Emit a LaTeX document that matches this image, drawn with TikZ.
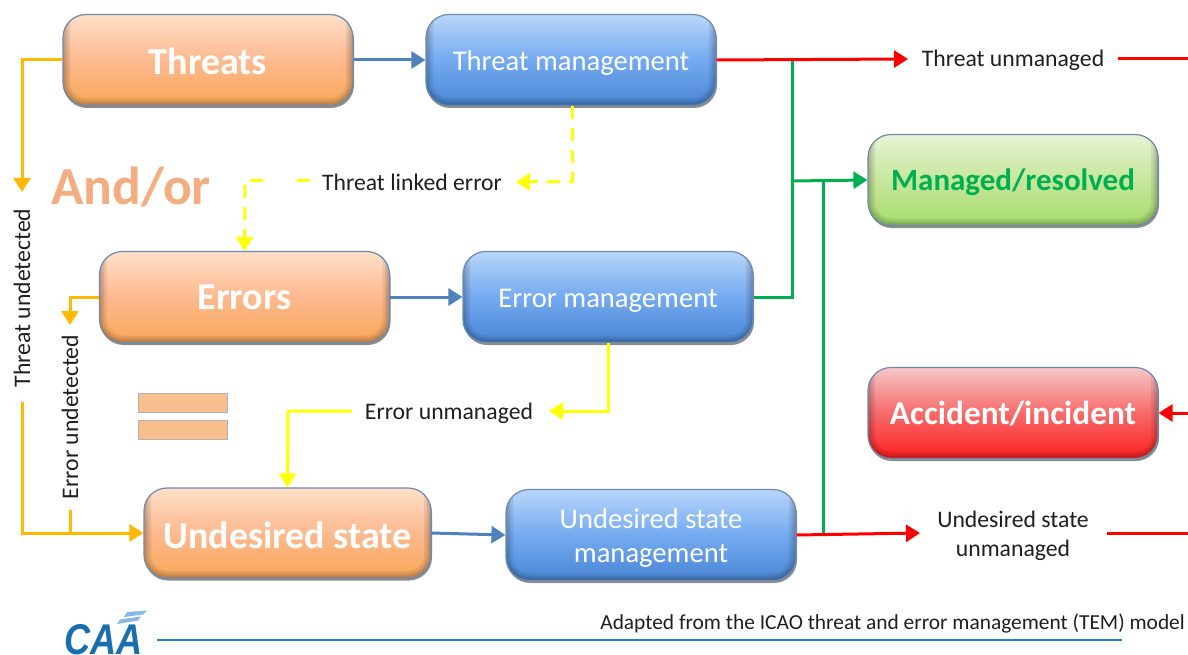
\documentclass[tikz,border=0pt]{standalone}
\usepackage{fontspec}
\setmainfont{Carlito}
\newfontfamily\logofont{Liberation Sans}
\usetikzlibrary{arrows.meta,shadows,calc}
\definecolor{lnblue}{HTML}{4F81BD}
\definecolor{lnorange}{HTML}{FFB900}
\definecolor{lnyellow}{HTML}{FFFF00}
\definecolor{lngreen}{HTML}{00B050}
\definecolor{lnred}{HTML}{FF0000}
\definecolor{edgeblue}{HTML}{6E88AE}
\definecolor{rulecol}{HTML}{1F82CF}
\definecolor{eqfill}{HTML}{F8BE8E}
\definecolor{bluetop}{HTML}{B8D6FA}
\definecolor{bluebot}{HTML}{4A86D4}
\definecolor{bluemid}{HTML}{74AAF0}
\definecolor{greentop}{HTML}{E8F3D4}
\definecolor{greenbot}{HTML}{A6DC6C}
\definecolor{greenmid}{HTML}{C6E79C}
\definecolor{redtop}{HTML}{F6C8C8}
\definecolor{redbot}{HTML}{FF2020}
\definecolor{redmid}{HTML}{F76A6A}
\definecolor{orangetop}{HTML}{FFE0C8}
\definecolor{orangebot}{HTML}{F9A858}
\definecolor{orangemid}{HTML}{FDB98F}
\definecolor{andor}{HTML}{F2AE80}
\newcommand{\lowtxt}[2]{\raisebox{-#1}[\height][\depth]{#2}}
\newcommand{\twoline}[3]{\raisebox{-#1}[\height][\depth]{\parbox{280pt}{\centering #2\\#3}}}
\tikzset{
  x=1pt,y=-1pt,
  basebox/.style={rounded corners=23pt,minimum width=290pt,minimum height=91pt,draw=edgeblue,line width=1.2pt,
     align=center,inner sep=0pt,
     drop shadow={shadow xshift=1pt,shadow yshift=-2.5pt,opacity=.45,fill=black},
     path picture={
       \foreach \lw in {14,9,5}{
         \draw[black,opacity=.08,line width=\lw pt,rounded corners=23pt]
           (path picture bounding box.south west) rectangle
           ([yshift=30pt]path picture bounding box.north east);}
     }},
  orangebox/.style={basebox,top color=orangetop,bottom color=orangebot,middle color=orangemid,text=white,font=\fontsize{38}{38}\selectfont\bfseries},
  bluebox/.style={basebox,top color=bluetop,bottom color=bluebot,middle color=bluemid,text=white,font=\fontsize{28.6}{34}\selectfont},
  greenbox/.style={basebox,top color=greentop,bottom color=greenbot,middle color=greenmid,text=lngreen,font=\fontsize{31}{36}\selectfont\bfseries},
  redbox/.style={basebox,top color=redtop,bottom color=redbot,middle color=redmid,text=white,font=\fontsize{33.3}{36}\selectfont\bfseries},
  lbl/.style={text=black!88,inner sep=0pt,align=center,font=\fontsize{23.7}{29}\selectfont},
  conn/.style={line width=3pt},
  tip/.style={-{Triangle[length=14pt,width=17pt]}},
  blueln/.style={conn,lnblue},
  orangeln/.style={conn,lnorange},
  yellowln/.style={conn,lnyellow},
  yellowdash/.style={conn,lnyellow,dash pattern=on 13pt off 9pt},
  greenln/.style={conn,lngreen},
  redln/.style={conn,lnred},
  eqbar/.style={draw=black!30,fill=eqfill,minimum width=89pt,minimum height=19pt,inner sep=0pt},
}
\begin{document}
\begin{tikzpicture}
\path[use as bounding box,fill=white] (0,0) rectangle (1188,655);
% boxes
\node[orangebox] (threats) at (208,60) {\lowtxt{1pt}{Threats}};
\node[bluebox] (tm) at (571,60) {\lowtxt{3pt}{Threat management}};
\node[orangebox] (errors) at (244.5,297) {Errors};
\node[bluebox] (em) at (608,297) {\lowtxt{4pt}{Error management}};
\node[orangebox,minimum width=287pt,minimum height=90pt] (us) at (287.5,533) {\lowtxt{2pt}{Undesired state}};
\node[bluebox] (usm) at (651,535) {\twoline{3pt}{Undesired state}{management}};
\node[greenbox] (managed) at (1013,180) {\lowtxt{2pt}{Managed/resolved}};
\node[redbox] (accident) at (1013,413) {\lowtxt{1pt}{Accident/incident}};
% labels
\node[lbl] (tun) at (1013,60) {Threat unmanaged};
\node[lbl] (usun) at (1013,536) {Undesired state\\unmanaged};
\node[lbl] (tle) at (412,182) {Threat linked error};
\node[lbl] (eun) at (449,413) {Error unmanaged};
\node[lbl,rotate=90] (tud) at (22,298) {Threat undetected};
\node[lbl,rotate=90] (eud) at (70,417) {Error undetected};
\node[inner sep=0pt,text=andor,font=\fontsize{53.5}{54}\selectfont\bfseries] (andor) at (131,187) {And/or};
\node[eqbar] (eq1) at (182.5,402.5) {};
\node[eqbar] (eq2) at (182.5,429.5) {};
\node[lbl,font=\fontsize{21.4}{24}\selectfont,anchor=east] (adapted) at (1185,624) {Adapted from the ICAO threat and error management (TEM) model};
% free ends
\coordinate (re1) at (1188,59);
\coordinate (re2) at (1188,533);
\coordinate (re3) at (1188,413);
\coordinate (rs) at (157,640);
\coordinate (rt) at (1122,640);
\coordinate (tudTop) at (22,192);
\coordinate (tudBot) at (22,402);
\coordinate (eudTop) at (70,325);
\coordinate (eudBot) at (70,510);
\coordinate (tleTurn) at (572,182);
\coordinate (tleIn) at (516,182);
\coordinate (tleOut) at (310,181);
\coordinate (tleCorner) at (245,181);
\coordinate (tleDown) at (245,185);
\coordinate (eunIn) at (549,411);
\coordinate (eunOut) at (352,411);
% connectors
\draw[blueln,tip] (threats.east) -- (tm.west);
\draw[blueln,tip] (errors.east) -- (em.west);
\draw[blueln,tip] (us.east) -- (usm.west);
\draw[orangeln,tip] (threats.west) -- (22,60) -- (tudTop);
\draw[orangeln,tip] (tudBot) -- (22,533) -- (us.west);
\draw[orangeln,tip] (errors.west) -- (70,297) -- (eudTop);
\draw[orangeln] (eudBot) -- (70,533);
\draw[yellowdash,tip] ([xshift=1pt]tm.south) -- (tleTurn) -- (tleIn);
\draw[yellowdash,dash pattern=on 13pt off 34pt] (tleOut) -- (tleCorner);
\draw[yellowdash,tip] (tleDown) -- (errors.north);
\draw[yellowln,tip] (em.south) -- (608,411) -- (eunIn);
\draw[yellowln,tip] (eunOut) -- (288,411) -- (us.north);
\draw[greenln] (792,60) -- (792,297) -- (em.east);
\draw[greenln,tip] (792,181) -- (managed.west);
\draw[greenln] (823,181) -- (823,535);
\draw[redln,tip] (tm.east) -- (908,59);
\draw[redln] (1118,59) -- (re1);
\draw[redln,tip] (usm.east) -- (920,533);
\draw[redln] (1107,533) -- (re2);
\draw[redln,tip] (re3) -- (accident.east);
\draw[rulecol,line width=1.2pt] (rs) -- (rt);
% logo
\node[inner sep=0pt,anchor=base west,xscale=.84,transform shape,text=rulecol!85!black,font=\logofont\fontsize{43}{43}\selectfont\bfseries\itshape] (caa) at (64,654.5) {CAA};
\fill[rulecol!55] (127,612) -- (147,610.5) -- (143,614.5) -- (124,617) -- cycle;
\fill[rulecol!55] (120,619.5) -- (141,616.5) -- (138,620.5) -- (117,624) -- cycle;
\end{tikzpicture}
\end{document}
